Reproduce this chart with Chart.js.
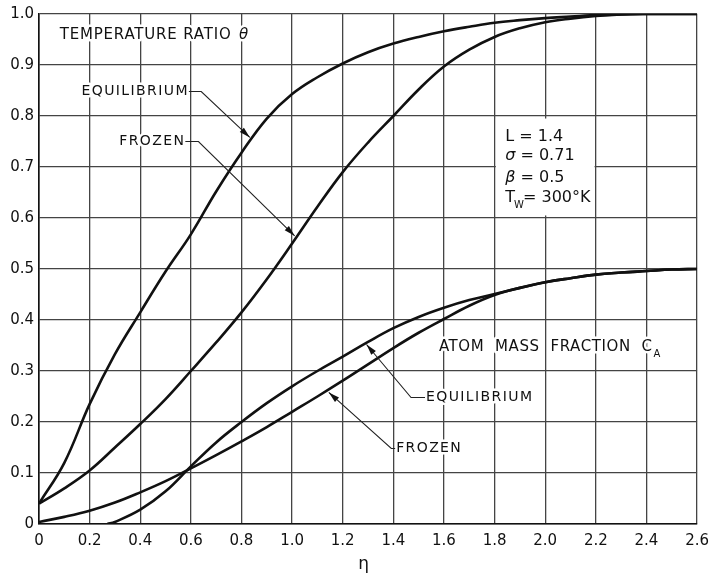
<!DOCTYPE html>
<html>
<head>
<meta charset="utf-8">
<script src="https://cdn.jsdelivr.net/npm/chart.js@4/dist/chart.umd.min.js"></script>
<style>
  html, body { margin: 0; padding: 0; background: #fff; }
</style>
</head>
<body>
<canvas id="profiles" width="717" height="580"></canvas>
<script>
// eta stations, 0.1 apart
const eta = [0, 0.1, 0.2, 0.3, 0.4, 0.5, 0.6, 0.7, 0.8, 0.9, 1.0, 1.1, 1.2, 1.3, 1.4, 1.5, 1.6, 1.7, 1.8, 1.9, 2.0, 2.1, 2.2, 2.3, 2.4, 2.5, 2.6];

// temperature ratio theta
const tempEquilibrium = [0.04, 0.12, 0.235, 0.333, 0.415, 0.495, 0.568, 0.652, 0.728, 0.795, 0.843, 0.876, 0.903, 0.925, 0.942, 0.955, 0.966, 0.975, 0.983, 0.988, 0.992, 0.995, 0.998, 0.999, 1.0, 1.0, 1.0];
const tempFrozen = [0.04, 0.07, 0.105, 0.15, 0.196, 0.245, 0.30, 0.356, 0.415, 0.48, 0.55, 0.622, 0.69, 0.748, 0.80, 0.852, 0.897, 0.93, 0.955, 0.972, 0.984, 0.991, 0.996, 0.999, 1.0, 1.0, 1.0];

// atom mass fraction C_A (equilibrium profile starts off the wall at eta = 0.27)
const atomEqEta = [0.27, 0.3, 0.4, 0.5, 0.6, 0.7, 0.8, 0.9, 1.0, 1.1, 1.2, 1.3, 1.4, 1.5, 1.6, 1.7, 1.8, 1.9, 2.0, 2.1, 2.2, 2.3, 2.4, 2.5, 2.6];
const atomEquilibrium = [0, 0.004, 0.028, 0.064, 0.113, 0.16, 0.2, 0.237, 0.27, 0.3, 0.328, 0.357, 0.384, 0.406, 0.424, 0.439, 0.451, 0.463, 0.474, 0.482, 0.489, 0.493, 0.496, 0.499, 0.5];
const atomFrozen = [0.004, 0.014, 0.026, 0.042, 0.062, 0.084, 0.109, 0.135, 0.162, 0.19, 0.22, 0.25, 0.281, 0.313, 0.345, 0.375, 0.402, 0.428, 0.449, 0.463, 0.474, 0.482, 0.489, 0.493, 0.496, 0.499, 0.5];

const paramLines = ["L = 1.4", "σ = 0.71", "β = 0.5", "T_W= 300°K"];

const FONT = "'DejaVu Sans', sans-serif";

function pts(xs, ys) {
  return xs.map((x, i) => ({x: x, y: ys[i]}));
}

function curve(label, xs, ys) {
  return {
    label: label,
    data: pts(xs, ys),
    borderColor: "#111",
    borderWidth: 2.6,
    pointRadius: 0,
    tension: 0.4,
    fill: false
  };
}

// text with a white halo so grid lines break around the lettering
function label(ctx, text, x, y, size, opts) {
  opts = opts || {};
  ctx.save();
  ctx.font = (opts.italic ? "italic " : "") + size + "px " + FONT;
  ctx.letterSpacing = (opts.spacing || 0) + "px";
  ctx.textBaseline = "middle";
  ctx.textAlign = opts.align || "left";
  if (opts.halo !== false) {
    ctx.strokeStyle = "#fff";
    ctx.lineWidth = 5;
    ctx.lineJoin = "round";
    ctx.strokeText(text, x, y);
  }
  ctx.fillStyle = "#111";
  ctx.fillText(text, x, y);
  const w = ctx.measureText(text).width;
  ctx.restore();
  return w;
}

// leader: text end -> short horizontal -> arrow tip
function leader(ctx, pts) {
  ctx.save();
  ctx.strokeStyle = "#222";
  ctx.lineWidth = 1.1;
  ctx.beginPath();
  ctx.moveTo(pts[0][0], pts[0][1]);
  for (let i = 1; i < pts.length; i++) ctx.lineTo(pts[i][0], pts[i][1]);
  ctx.stroke();
  const a = pts[pts.length - 2], b = pts[pts.length - 1];
  const ang = Math.atan2(b[1] - a[1], b[0] - a[0]);
  const len = 11, half = 3;
  ctx.fillStyle = "#111";
  ctx.beginPath();
  ctx.moveTo(b[0], b[1]);
  ctx.lineTo(b[0] - len * Math.cos(ang) + half * Math.sin(ang), b[1] - len * Math.sin(ang) - half * Math.cos(ang));
  ctx.lineTo(b[0] - len * Math.cos(ang) - half * Math.sin(ang), b[1] - len * Math.sin(ang) + half * Math.cos(ang));
  ctx.closePath();
  ctx.fill();
  ctx.restore();
}

const notes = {
  id: "notes",
  beforeDatasetsDraw(chart) {
    const {ctx, scales: {x, y}} = chart;
    // blank panel for the parameter list
    ctx.save();
    ctx.fillStyle = "#fff";
    const x0 = x.getPixelForValue(1.805), x1 = x.getPixelForValue(2.195);
    const y0 = y.getPixelForValue(0.795), y1 = y.getPixelForValue(0.605);
    ctx.fillRect(x0, y0, x1 - x0, y1 - y0);
    ctx.restore();
  },
  afterDatasetsDraw(chart) {
    const {ctx, scales: {x, y}, chartArea} = chart;
    const P = (e, v) => [x.getPixelForValue(e), y.getPixelForValue(v)];

    let p = P(0.082, 0.959);
    let w = label(ctx, "TEMPERATURE RATIO ", p[0], p[1], 15, {spacing: 0.8});
    label(ctx, "θ", p[0] + w + 2, p[1], 15, {italic: true});

    // upper curve callouts
    p = P(0.168, 0.848);
    w = label(ctx, "EQUILIBRIUM", p[0], p[1], 14, {spacing: 1.4});
    leader(ctx, [[p[0] + w, p[1]], P(0.641, 0.848), P(0.833, 0.758)]);

    p = P(0.317, 0.75);
    w = label(ctx, "FROZEN", p[0], p[1], 14, {spacing: 1.4});
    leader(ctx, [[p[0] + w, p[1]], P(0.63, 0.75), P(1.01, 0.565)]);

    // parameters
    const lineY = [0.76, 0.721, 0.678, 0.639];
    paramLines.forEach((t, i) => {
      p = P(1.842, lineY[i]);
      if (t.startsWith("T_W")) {
        const tw = label(ctx, "T", p[0], p[1], 16, {halo: false});
        label(ctx, "W", p[0] + tw - 1, p[1] + 7, 10, {halo: false});
        label(ctx, "= 300°K", p[0] + tw + 8, p[1], 16, {halo: false});
      } else if (t[0] === "σ" || t[0] === "β") {
        const sw = label(ctx, t[0], p[0], p[1], 16, {italic: true, halo: false});
        label(ctx, t.slice(1), p[0] + sw, p[1], 16, {halo: false});
      } else {
        label(ctx, t, p[0], p[1], 16, {halo: false});
      }
    });

    // lower curve callouts
    p = P(1.58, 0.346);
    w = label(ctx, "ATOM  MASS  FRACTION  C", p[0], p[1], 15, {spacing: 0.6});
    label(ctx, "A", p[0] + w + 1, p[1] + 7, 10, {halo: false});

    p = P(1.529, 0.248);
    label(ctx, "EQUILIBRIUM", p[0], p[1], 14, {spacing: 1.4});
    leader(ctx, [[p[0] - 1, p[1]], P(1.47, 0.248), P(1.294, 0.352)]);

    p = P(1.411, 0.148);
    label(ctx, "FROZEN", p[0], p[1], 14, {spacing: 1.4});
    leader(ctx, [[p[0] - 1, p[1]], P(1.392, 0.148), P(1.145, 0.258)]);

    // eta axis symbol
    label(ctx, "η", x.getPixelForValue(1.283), chartArea.bottom + 41, 17, {halo: false, align: "center"});
  }
};

new Chart(document.getElementById("profiles"), {
  type: "line",
  data: {
    datasets: [
      curve("Temperature ratio, equilibrium", eta, tempEquilibrium),
      curve("Temperature ratio, frozen", eta, tempFrozen),
      curve("Atom mass fraction, equilibrium", atomEqEta, atomEquilibrium),
      curve("Atom mass fraction, frozen", eta, atomFrozen)
    ]
  },
  options: {
    responsive: false,
    animation: false,
    layout: {padding: {top: 12, right: 13, left: 0, bottom: 0}},
    plugins: {
      legend: {display: false},
      tooltip: {enabled: false}
    },
    scales: {
      x: {
        type: "linear",
        min: 0,
        max: 2.6,
        afterFit: s => { s.height = 56; },
        ticks: {
          stepSize: 0.2,
          padding: 8,
          color: "#111",
          font: {family: FONT, size: 15},
          callback: v => v === 0 ? "0" : v.toFixed(1)
        },
        grid: {color: "#444", lineWidth: 1.3, drawTicks: false},
        border: {color: "#111", width: 1.6}
      },
      y: {
        min: 0,
        max: 1.0,
        afterFit: s => { s.width = 39; },
        ticks: {
          stepSize: 0.1,
          padding: 5,
          color: "#111",
          font: {family: FONT, size: 15},
          callback: v => v === 0 ? "0" : v.toFixed(1)
        },
        grid: {color: "#444", lineWidth: 1.3, drawTicks: false},
        border: {color: "#111", width: 1.6}
      }
    }
  },
  plugins: [notes]
});
</script>
</body>
</html>
